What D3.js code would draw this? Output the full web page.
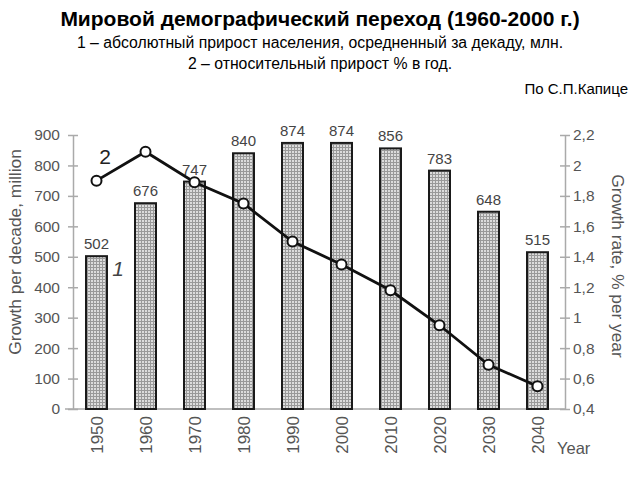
<!DOCTYPE html>
<html>
<head>
<meta charset="utf-8">
<script src="https://cdn.jsdelivr.net/npm/d3@7"></script>
<style>
  body { margin: 0; background: #fff; }
  svg { display: block; }
</style>
</head>
<body>
<div id="chart"></div>
<script>
//chart values
const years = ["1950", "1960", "1970", "1980", "1990", "2000", "2010", "2020", "2030", "2040"];
const growthPerDecade = [502, 676, 747, 840, 874, 874, 856, 783, 648, 515];
const growthRate = [1.9, 2.09, 1.89, 1.75, 1.5, 1.35, 1.18, 0.95, 0.69, 0.55];
const leftTicks = [0, 100, 200, 300, 400, 500, 600, 700, 800, 900];
const rightTicks = [0.4, 0.6, 0.8, 1, 1.2, 1.4, 1.6, 1.8, 2, 2.2];

const titleLines = [
  "1 – абсолютный прирост населения, осредненный за декаду, млн.",
  "2 – относительный прирост % в год."
];

const width = 640;
const height = 480;
const chartFont = "'Liberation Sans', Arial, sans-serif";

const svg = d3.select("#chart")
  .append("svg")
  .attr("width", width)
  .attr("height", height);

//hatched fill for the bars
const pat = svg.append("defs").append("pattern")
  .attr("id", "hatch")
  .attr("width", 3)
  .attr("height", 3)
  .attr("patternUnits", "userSpaceOnUse");
pat.append("rect").attr("width", 3).attr("height", 3).attr("fill", "#dcdcdc");
pat.append("path")
  .attr("d", "M0,0.5H3M0.5,0V3")
  .attr("stroke", "#999")
  .attr("stroke-width", 1);

//scales
const x = d3.scalePoint().domain(years).range([72, 562]).padding(0.5);
const yLeft = d3.scaleLinear().domain([0, 900]).range([409, 135]);
const yRight = d3.scaleLinear().domain([0.4, 2.2]).range([409, 135]);

//titles
svg.append("text")
  .attr("x", 320).attr("y", 26)
  .attr("text-anchor", "middle")
  .style("font-family", chartFont)
  .style("font-weight", "bold")
  .style("font-size", "21px")
  .text("Мировой демографический переход (1960-2000 г.)");

svg.selectAll(".sub")
  .data(titleLines)
  .enter()
  .append("text")
  .attr("class", "sub")
  .attr("x", 320)
  .attr("y", (d, i) => 48 + i * 21)
  .attr("text-anchor", "middle")
  .style("font-family", chartFont)
  .style("font-size", "15.8px")
  .text(d => d);

svg.append("text")
  .attr("x", 628).attr("y", 94)
  .attr("text-anchor", "end")
  .style("font-family", chartFont)
  .style("font-size", "15px")
  .text("По С.П.Капице");

//baseline
svg.append("line")
  .attr("x1", 65).attr("x2", 565)
  .attr("y1", yLeft(0)).attr("y2", yLeft(0))
  .attr("stroke", "#aaa")
  .attr("stroke-width", 1.5);

//left axis
const leftAxis = svg.append("g")
  .attr("transform", "translate(73,0)")
  .call(d3.axisLeft(yLeft).tickValues(leftTicks).tickSizeInner(0).tickSizeOuter(0).tickPadding(13));
leftAxis.select(".domain").attr("stroke", "#aaa").attr("stroke-width", 1.5);
leftAxis.selectAll(".tick line").attr("x1", -5).attr("x2", 5).attr("stroke", "#aaa").attr("stroke-width", 1.5);
leftAxis.selectAll(".tick text")
  .style("font-family", chartFont)
  .style("font-size", "15.5px")
  .attr("fill", "#555");

//right axis
const rightAxis = svg.append("g")
  .attr("transform", "translate(565,0)")
  .call(d3.axisRight(yRight).tickValues(rightTicks).tickSizeInner(0).tickSizeOuter(0).tickPadding(8)
    .tickFormat(d => d3.format("~g")(d).replace(".", ",")));
rightAxis.select(".domain").attr("stroke", "#aaa").attr("stroke-width", 1.5);
rightAxis.selectAll(".tick line").attr("x1", -5).attr("x2", 5).attr("stroke", "#aaa").attr("stroke-width", 1.5);
rightAxis.selectAll(".tick text")
  .style("font-family", chartFont)
  .style("font-size", "15.5px")
  .attr("fill", "#555");

//x labels, rotated
svg.selectAll(".year")
  .data(years)
  .enter()
  .append("text")
  .attr("class", "year")
  .attr("transform", d => `translate(${x(d) + 6},416) rotate(-90)`)
  .attr("text-anchor", "end")
  .style("font-family", chartFont)
  .style("font-size", "17px")
  .attr("fill", "#555")
  .text(d => d);

svg.append("text")
  .attr("x", 557).attr("y", 454)
  .style("font-family", chartFont)
  .style("font-size", "16.5px")
  .attr("fill", "#555")
  .text("Year");

//axis titles
svg.append("text")
  .attr("transform", "translate(21,252) rotate(-90)")
  .attr("text-anchor", "middle")
  .style("font-family", chartFont)
  .style("font-size", "17.3px")
  .attr("fill", "#555")
  .text("Growth per decade, million");

svg.append("text")
  .attr("transform", "translate(612,266) rotate(90)")
  .attr("text-anchor", "middle")
  .style("font-family", chartFont)
  .style("font-size", "17.3px")
  .attr("fill", "#555")
  .text("Growth rate, % per year");

//bars
const barW = 21;
svg.selectAll(".bar")
  .data(years)
  .enter()
  .append("rect")
  .attr("class", "bar")
  .attr("x", d => x(d) - barW / 2)
  .attr("y", (d, i) => yLeft(growthPerDecade[i]))
  .attr("width", barW)
  .attr("height", (d, i) => yLeft(0) - yLeft(growthPerDecade[i]))
  .attr("fill", "url(#hatch)")
  .attr("stroke", "#1a1a1a")
  .attr("stroke-width", 2);

//values above bars
svg.selectAll(".val")
  .data(years)
  .enter()
  .append("text")
  .attr("class", "val")
  .attr("x", d => x(d))
  .attr("y", (d, i) => yLeft(growthPerDecade[i]) - 7)
  .attr("text-anchor", "middle")
  .style("font-family", chartFont)
  .style("font-size", "15px")
  .attr("fill", "#444")
  .text((d, i) => growthPerDecade[i]);

//growth rate line
const line = d3.line()
  .x((d, i) => x(years[i]))
  .y(d => yRight(d));

svg.append("path")
  .datum(growthRate)
  .attr("d", line)
  .attr("fill", "none")
  .attr("stroke", "#111")
  .attr("stroke-width", 2.8);

svg.selectAll(".dot")
  .data(growthRate)
  .enter()
  .append("circle")
  .attr("class", "dot")
  .attr("cx", (d, i) => x(years[i]))
  .attr("cy", d => yRight(d))
  .attr("r", 5)
  .attr("fill", "#fff")
  .attr("stroke", "#111")
  .attr("stroke-width", 2);

//series markers
svg.append("text")
  .attr("x", 105).attr("y", 164)
  .attr("text-anchor", "middle")
  .style("font-family", chartFont)
  .style("font-size", "21px")
  .attr("fill", "#222")
  .text("2");

svg.append("text")
  .attr("x", 118).attr("y", 276)
  .attr("text-anchor", "middle")
  .style("font-family", chartFont)
  .style("font-style", "italic")
  .style("font-size", "21px")
  .attr("fill", "#444")
  .text("1");
</script>
</body>
</html>
